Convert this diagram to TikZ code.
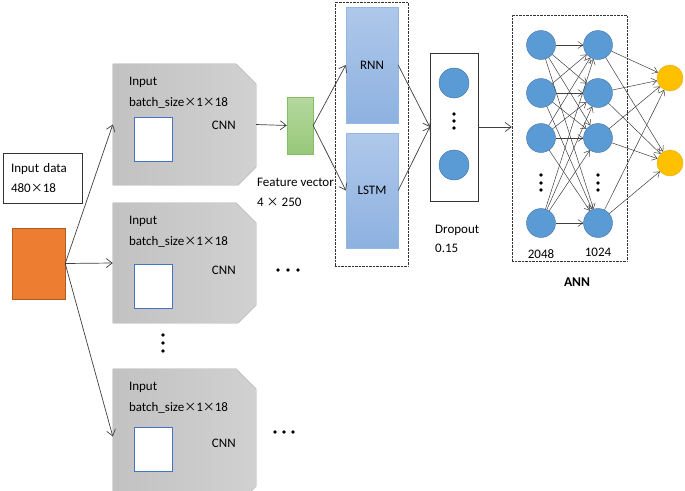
\documentclass[tikz,border=0pt]{standalone}
\usepackage{fontspec}
\setmainfont{Carlito}
\newfontfamily\cjk{Noto Sans CJK SC}
\newcommand{\bytimes}{{\cjk\fontsize{12}{14}\selectfont ×}}
\usetikzlibrary{calc,positioning,arrows.meta}
\definecolor{linegray}{HTML}{404040}
\definecolor{winblue}{HTML}{4472C4}
\definecolor{dataorange}{HTML}{ED7D31}
\definecolor{dataedge}{HTML}{AE5A21}
\definecolor{feattop}{HTML}{B5D89E}
\definecolor{featbot}{HTML}{97C87A}
\definecolor{featedge}{HTML}{84BD62}
\definecolor{rectop}{HTML}{AFC8EA}
\definecolor{recbot}{HTML}{8DB1E0}
\definecolor{recedge}{HTML}{95B8E3}
\definecolor{neuronblue}{HTML}{5B9BD5}
\definecolor{neuronedge}{HTML}{41719C}
\definecolor{outyellow}{HTML}{FFC000}
\tikzset{
		>={Straight Barb[length=6pt,width=9pt]},
		line/.style={draw=linegray, line width=0.7pt, ->},
		link/.style={draw=linegray, line width=0.5pt,
			-{Straight Barb[length=5pt,width=7pt]}},
		txt/.style={inner sep=0pt, anchor=west,
			font=\fontsize{13}{15}\selectfont},
		cnnframe/.style={rectangle, inner sep=0pt, minimum width=143pt},
		cnnfill/.style={left color=black!24, right color=black!18},
		window/.style={rectangle, fill=white, draw=winblue, line width=0.8pt,
			minimum width=38pt, minimum height=44pt, inner sep=0pt},
		neuron/.style={circle, fill=neuronblue, draw=neuronedge,
			minimum size=29pt, inner sep=0pt},
		dashbox/.style={rectangle, draw=black!80, densely dotted, inner sep=0pt},
	}
\begin{document}
\begin{tikzpicture}[x=1pt, y=-1pt,
			recblock/.style={rectangle, top color=rectop, bottom color=recbot,
				draw=recedge, minimum width=52pt, inner sep=0pt,
				font=\fontsize{13}{15}\selectfont},
			]
			\clip (0,0) rectangle (685,490);
			\fill[white] (0,0) rectangle (685,490);
			
			% input data
			\node[draw=black!80, rectangle, minimum width=79pt, minimum height=50pt,
			text width=63pt, inner xsep=8pt, align=left,
			font=\fontsize{13}{20}\selectfont] (indata) at (42.5,178)
			{Input data\\480\bytimes18};
			\node[rectangle, fill=dataorange, draw=dataedge, minimum width=53pt,
			minimum height=71pt] (data) at (38.5,263.5) {};
			
			% cnn branches
			\foreach \n/\y/\h/\s/\c in {1/64/121/76/62, 2/203/120/84/68, 3/369/135/81/75}{
				\node[cnnframe, minimum height=\h pt] (cnn\n) at (184.5,\y+\h/2) {};
				\fill[cnnfill] (cnn\n.north west) -- ($(cnn\n.north east)+(-20,0)$)
				-- ($(cnn\n.north east)+(0,20)$) -- ($(cnn\n.south east)+(0,-18)$)
				-- ($(cnn\n.south east)+(-18,0)$) -- (cnn\n.south west) -- cycle;
				\node[txt] (in\n) at ($(cnn\n.north west)+(16,19)$) {Input};
				\node[txt] (bs\n) at ($(cnn\n.north west)+(16,39)$) {batch\_size\bytimes1\bytimes18};
				\node[txt, anchor=center] (lab\n) at ($(cnn\n.north west)+(111,\c)$) {CNN};
				\node[window] (win\n) at ($(cnn\n.north west)+(41,\s)$) {};
				\draw[line] (data.east) -- (cnn\n.west);
			}
			
			% feature vector
			\node[rectangle, top color=feattop, bottom color=featbot, draw=featedge,
			minimum width=26pt, minimum height=57pt, inner sep=0pt] (feat) at (300,125.5) {};
			\draw[line] (cnn1.east) -- (feat.west);
			\node[txt] (fv) at (257,182) {Feature vector};
			\node[txt] (fvsize) at (257,202) {4 \bytimes\ 250};
			
			% recurrent part
			\node[dashbox, minimum width=73pt, minimum height=264pt] (rec) at (371.5,134) {};
			\node[recblock, minimum height=116pt] (rnn) at (372,65) {RNN};
			\node[recblock, minimum height=115pt] (lstm) at (372,190.5) {LSTM};
			\draw[line] (feat.east) -- (rnn.west);
			\draw[line] (feat.east) -- (lstm.west);
			
			% dropout
			\node[rectangle, draw=black!80, minimum width=48pt, minimum height=148pt]
			(drop) at (454,127) {};
			\node[neuron, minimum size=30pt] (d1) at (454,83) {};
			\node[neuron, minimum size=30pt] (d2) at (454,165) {};
			\draw[line] (rnn.east) -- (drop.west);
			\draw[line] (lstm.east) -- (drop.west);
			\node[txt] (dr) at (435,230) {Dropout};
			\node[txt] (drval) at (435,248) {0.15};
			
			% ann
			\node[dashbox, minimum width=115pt, minimum height=246pt] (ann) at (569.5,138) {};
			\draw[line] (drop.east) -- (drop.east -| ann.west);
			\foreach \i/\y in {1/45, 2/93, 3/138, 4/223}{
				\node[neuron] (a\i) at (541,\y) {};
				\node[neuron] (b\i) at (598,\y) {};
			}
			\node[circle, fill=outyellow, draw=outyellow!90!black, minimum size=26pt,
			inner sep=0pt] (o1) at (670,78) {};
			\node[circle, fill=outyellow, draw=outyellow!90!black, minimum size=26pt,
			inner sep=0pt] (o2) at (670,163) {};
			\foreach \i in {1,...,4}{
				\foreach \j in {1,...,4}
				\draw[link] (a\i) -- (b\j);
				\foreach \j in {1,2}
				\draw[link] (b\i) -- (o\j);
			}
			\node[txt, anchor=center] (n2048) at (541,254) {2048};
			\node[txt, anchor=center] (n1024) at (598,252) {1024};
			\node[txt, anchor=center, font=\fontsize{13.5}{15}\selectfont\bfseries]
			(annlab) at (577,282) {ANN};
			
			% dots
			\foreach \x/\y in {278/270, 288/270, 298/270, 275/432, 284/432, 293/432,
				163/335, 163/343, 163/351, 454/114, 454/121, 454/128,
				541/175, 541/183, 541/190, 598/175, 598/183, 598/190}
			\fill (\x,\y) circle (1.8pt);
			\end{tikzpicture}
\end{document}
